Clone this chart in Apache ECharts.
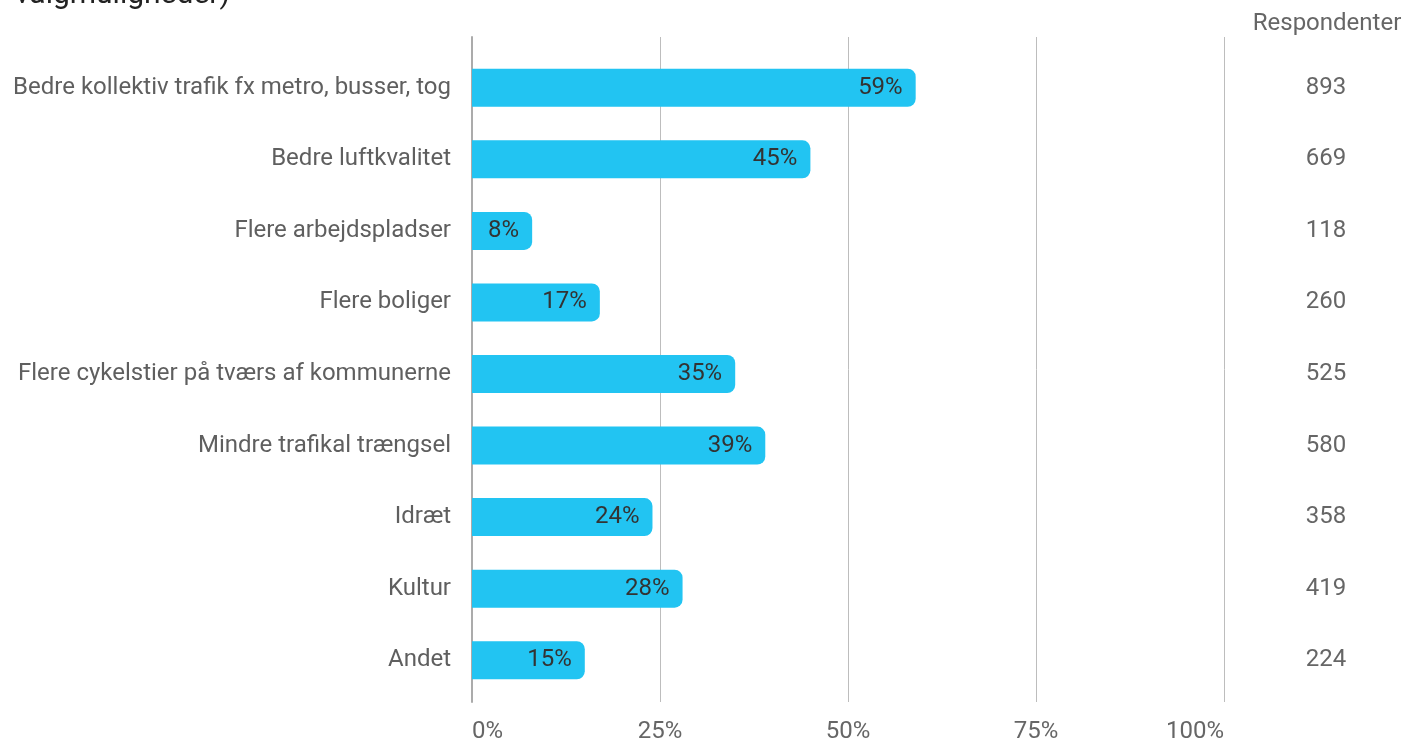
<!DOCTYPE html>
<html><head><meta charset="utf-8">
<script src="https://cdn.jsdelivr.net/npm/echarts@6/dist/echarts.min.js"></script>
<style>html,body{margin:0;padding:0;background:#fff}#c{width:1404px;height:744px}</style>
</head><body><div id="c"></div>
<script>
const categories = ["Bedre kollektiv trafik fx metro, busser, tog","Bedre luftkvalitet","Flere arbejdspladser","Flere boliger","Flere cykelstier på tværs af kommunerne","Mindre trafikal trængsel","Idræt","Kultur","Andet"];
const percentValues = [59,45,8,17,35,39,24,28,15];
const respondents = [893,669,118,260,525,580,358,419,224];
const xTicks = [0,25,50,75,100];
const titleText = "valgmuligheder)";
const respHeader = "Respondenter";

const chart = echarts.init(document.getElementById('c'));
const font = 'Roboto';
chart.setOption({
  animation:false,
  textStyle:{fontFamily:font},
  title:[
    {text:titleText,left:10,top:-25,textStyle:{fontFamily:font,fontSize:30,fontWeight:'normal',color:'#222'}},
    {text:respHeader,left:1322,top:7,textAlign:'center',textStyle:{fontFamily:font,fontSize:24,fontWeight:'normal',color:'#666'}}
  ],
  grid:[
    {left:472,right:180,top:52,bottom:48},
    {left:472,right:180,top:37,bottom:39}
  ],
  xAxis:[
    {gridIndex:0,type:'value',min:0,max:100,interval:25,show:false},
    {gridIndex:1,type:'value',min:xTicks[0],max:xTicks[xTicks.length-1],interval:25,
     axisLine:{show:false},axisTick:{show:false},
     splitLine:{show:true,lineStyle:{color:'#bdbdbd',width:1}},
     axisLabel:{formatter:'{value}%',fontSize:24,color:'#666',margin:18,alignMinLabel:'left',alignMaxLabel:'right',fontFamily:font}}
  ],
  yAxis:[
    {gridIndex:0,type:'category',data:categories,inverse:true,
     axisLine:{show:false},axisTick:{show:false},
     axisLabel:{fontSize:24,color:'#5f5f5f',margin:21,padding:[4,0,0,0],fontFamily:font}},
    {gridIndex:0,type:'category',data:respondents.map(String),inverse:true,position:'right',
     axisLine:{show:false},axisTick:{show:false},
     axisLabel:{fontSize:24,color:'#666',margin:102,align:'center',padding:[4,0,0,0],fontFamily:font}},
    {gridIndex:1,type:'value',min:0,max:1,
     axisLine:{show:true,onZero:false,lineStyle:{color:'#ababab',width:2}},
     axisTick:{show:false},axisLabel:{show:false},splitLine:{show:false}}
  ],
  series:[{
    type:'bar',xAxisIndex:0,yAxisIndex:0,data:percentValues,barWidth:38,
    itemStyle:{color:'#22c4f2',borderRadius:[0,8,8,0]},
    label:{show:true,position:'insideRight',formatter:'{c}%',fontSize:24,color:'#333',distance:13,padding:[3,0,0,0],fontFamily:font}
  }]
});
</script></body></html>
